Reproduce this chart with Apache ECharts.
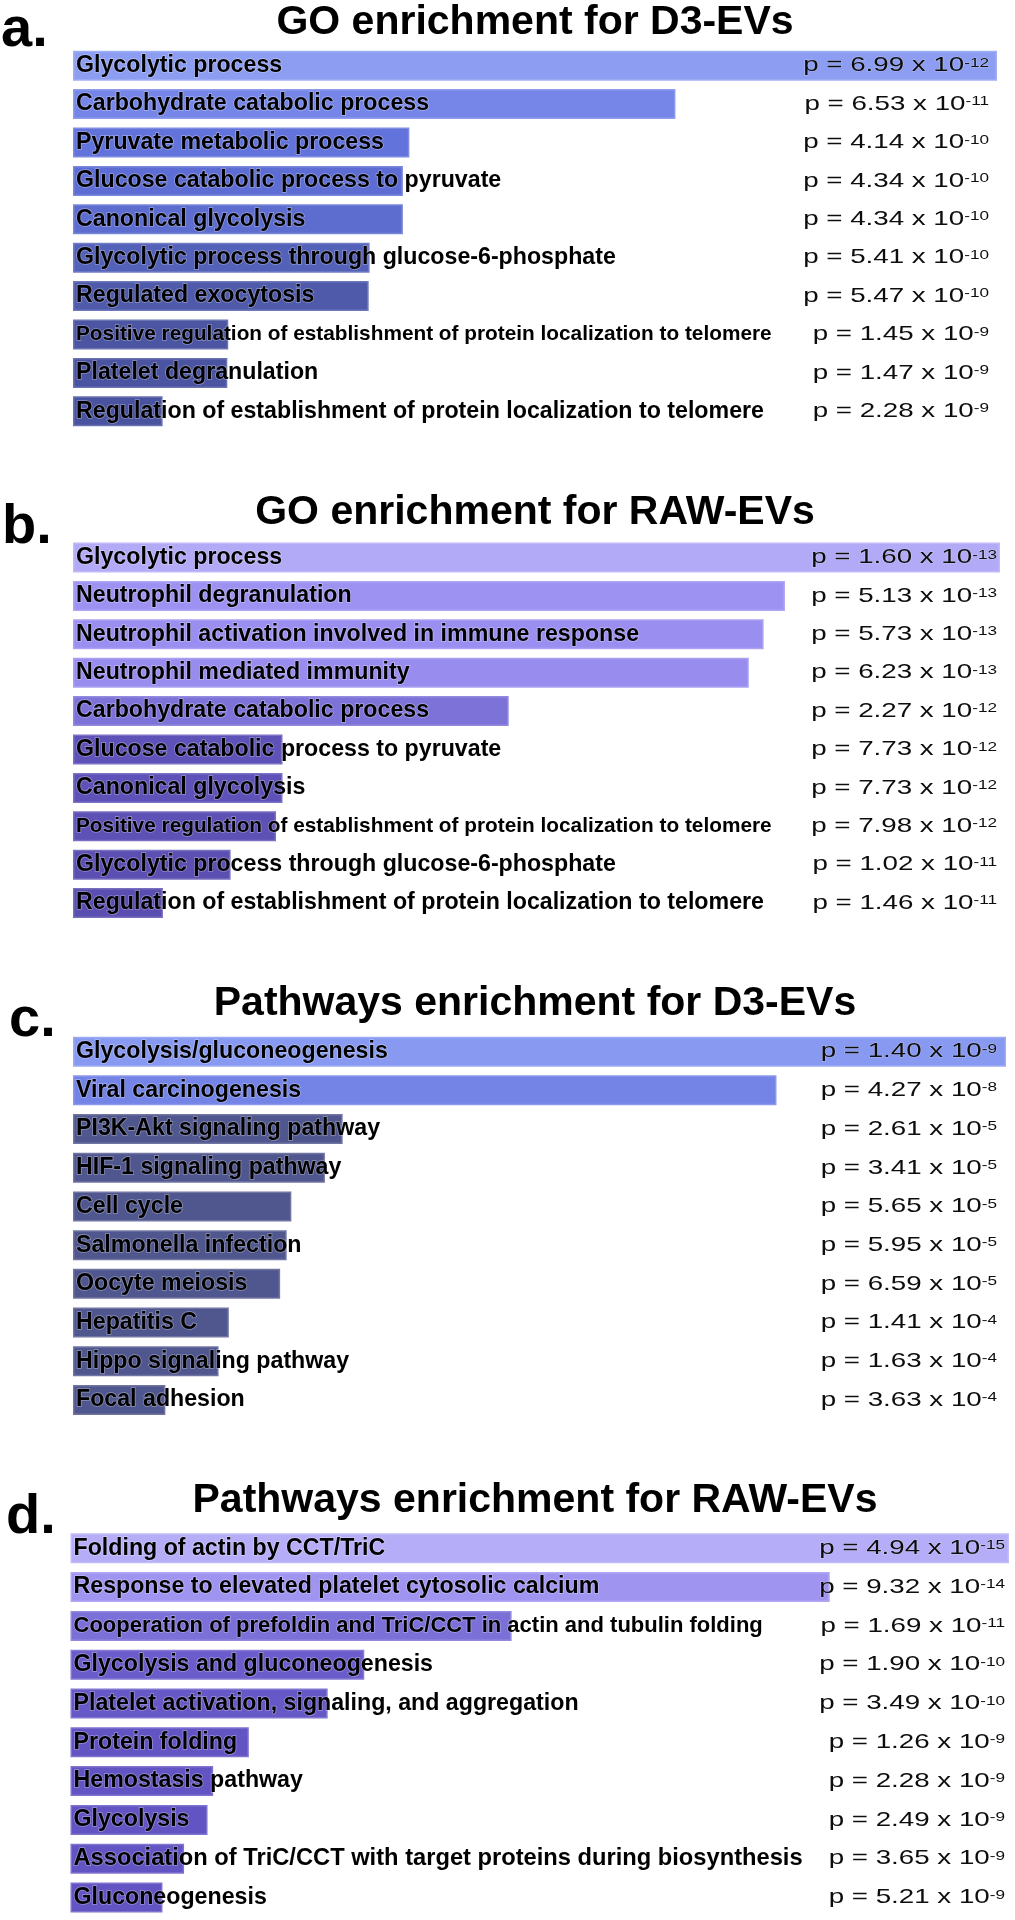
<!DOCTYPE html>
<html><head><meta charset="utf-8">
<script src="https://cdn.jsdelivr.net/npm/echarts@6/dist/echarts.min.js"></script>
<style>html,body{margin:0;padding:0;background:#fff}#c{width:1015px;height:1920px}</style>
</head><body><div id="c"></div>
<script>
// ---------- Panel a: GO enrichment for D3-EVs ----------
const termsA = ['Glycolytic process','Carbohydrate catabolic process','Pyruvate metabolic process','Glucose catabolic process to pyruvate','Canonical glycolysis','Glycolytic process through glucose-6-phosphate','Regulated exocytosis','Positive regulation of establishment of protein localization to telomere','Platelet degranulation','Regulation of establishment of protein localization to telomere'];
const scoreA = [100, 65.2, 36.4, 35.7, 35.7, 32.1, 32.0, 16.8, 16.7, 9.7];
const pMantA = ['6.99','6.53','4.14','4.34','4.34','5.41','5.47','1.45','1.47','2.28'];
const pExpA  = ['-12','-11','-10','-10','-10','-10','-10','-9','-9','-9'];
const colorsA = ['#8c9df2','#7686e8','#6373dc','#5e6dd4','#5d6ccf','#5461b8','#4f5aaa','#4b55a2','#4a54a0','#4a53a0'];

// ---------- Panel b: GO enrichment for RAW-EVs ----------
const termsB = ['Glycolytic process','Neutrophil degranulation','Neutrophil activation involved in immune response','Neutrophil mediated immunity','Carbohydrate catabolic process','Glucose catabolic process to pyruvate','Canonical glycolysis','Positive regulation of establishment of protein localization to telomere','Glycolytic process through glucose-6-phosphate','Regulation of establishment of protein localization to telomere'];
const scoreB = [100, 76.8, 74.5, 72.9, 47.0, 22.6, 22.6, 21.9, 17.0, 9.7];
const pMantB = ['1.60','5.13','5.73','6.23','2.27','7.73','7.73','7.98','1.02','1.46'];
const pExpB  = ['-13','-13','-13','-13','-12','-12','-12','-12','-11','-11'];
const colorsB = ['#b2aaf6','#9d92f2','#9a8ff0','#988cef','#7d72d8','#5e52b8','#5e52b8','#5d51b6','#5b4fb2','#5a4eb0'];

// ---------- Panel c: Pathways enrichment for D3-EVs ----------
const termsC = ['Glycolysis/gluconeogenesis','Viral carcinogenesis','PI3K-Akt signaling pathway','HIF-1 signaling pathway','Cell cycle','Salmonella infection','Oocyte meiosis','Hepatitis C','Hippo signaling pathway','Focal adhesion'];
const scoreC = [100, 75.4, 28.9, 27.0, 23.4, 22.9, 22.2, 16.7, 15.6, 9.9];
const pMantC = ['1.40','4.27','2.61','3.41','5.65','5.95','6.59','1.41','1.63','3.63'];
const pExpC  = ['-9','-8','-5','-5','-5','-5','-5','-4','-4','-4'];
const colorsC = ['#8799f0','#7383e6','#50578e','#50578e','#50578e','#50578e','#50578e','#50578e','#50578e','#50578e'];

// ---------- Panel d: Pathways enrichment for RAW-EVs ----------
const termsD = ['Folding of actin by CCT/TriC','Response to elevated platelet cytosolic calcium','Cooperation of prefoldin and TriC/CCT in actin and tubulin folding','Glycolysis and gluconeogenesis','Platelet activation, signaling, and aggregation','Protein folding','Hemostasis pathway','Glycolysis','Association of TriC/CCT with target proteins during biosynthesis','Gluconeogenesis'];
const scoreD = [100, 80.9, 47.0, 31.3, 27.4, 19.0, 15.2, 14.6, 12.1, 9.8];
const pMantD = ['4.94','9.32','1.69','1.90','3.49','1.26','2.28','2.49','3.65','5.21'];
const pExpD  = ['-15','-14','-11','-10','-10','-9','-9','-9','-9','-9'];
const colorsD = ['#b5adf7','#a094f1','#7b6fd8','#6a5ccb','#6658c6','#6354c3','#6354c3','#6354c3','#6354c3','#6354c3'];

const titles = ['GO enrichment for D3-EVs','GO enrichment for RAW-EVs','Pathways enrichment for D3-EVs','Pathways enrichment for RAW-EVs'];
const letters = ['a.','b.','c.','d.'];

// label font-size overrides (long terms were set in a smaller size in the original)
const labelSizeOverride = {
  'Positive regulation of establishment of protein localization to telomere': 20.8,
  'Cooperation of prefoldin and TriC/CCT in actin and tubulin folding': 22,
  'Association of TriC/CCT with target proteins during biosynthesis': 23.7
};
const LABEL_SIZE = 23.2;

const FONT = "'Liberation Sans', Arial, Helvetica, sans-serif";

const panels = [
  {terms: termsA, score: scoreA, pm: pMantA, pe: pExpA, colors: colorsA, left: 73, top: 46.5, width: 924, height: 384, pMargin: 8, titleY: 22.6, letterX: 1, letterY: 30.6},
  {terms: termsB, score: scoreB, pm: pMantB, pe: pExpB, colors: colorsB, left: 73, top: 538.3, width: 927, height: 384, pMargin: 3, titleY: 512.6, letterX: 2, letterY: 527.6},
  {terms: termsC, score: scoreC, pm: pMantC, pe: pExpC, colors: colorsC, left: 73, top: 1032.3, width: 933, height: 387, pMargin: 9, titleY: 1003.6, letterX: 9, letterY: 1020.6},
  {terms: termsD, score: scoreD, pm: pMantD, pe: pExpD, colors: colorsD, left: 70.5, top: 1528.9, width: 938.5, height: 388, pMargin: 4, titleY: 1500.9, letterX: 6, letterY: 1517.6}
];

function lighten(hex, f) {
  const n = parseInt(hex.slice(1), 16);
  const r = (n >> 16) & 255, g = (n >> 8) & 255, b = n & 255;
  const m = c => Math.round(c + (255 - c) * f);
  return 'rgb(' + m(r) + ',' + m(g) + ',' + m(b) + ')';
}

const pRich = {
  m: {fontFamily: FONT, fontSize: 21, lineHeight: 23, fill: '#0d0d0d', color: '#0d0d0d', verticalAlign: 'middle'},
  s: {fontFamily: FONT, fontSize: 13, lineHeight: 13, fill: '#0d0d0d', color: '#0d0d0d', verticalAlign: 'middle', padding: [0, 0, 5, 0]}
};

const grid = [], xAxis = [], yAxis = [], series = [], graphic = [];
panels.forEach((p, i) => {
  grid.push({left: p.left, top: p.top, width: p.width, height: p.height, containLabel: false});
  xAxis.push({type: 'value', gridIndex: i, min: 0, max: 100, show: false});
  yAxis.push({type: 'category', gridIndex: i, data: p.terms, inverse: true, show: false});
  series.push({
    type: 'bar', xAxisIndex: i, yAxisIndex: i, barWidth: 30, z: 2,
    data: p.score.map((v, j) => ({
      value: v,
      itemStyle: {color: p.colors[j], borderColor: lighten(p.colors[j], 0.18), borderWidth: 1.5},
      label: {fontSize: labelSizeOverride[p.terms[j]] || LABEL_SIZE}
    })),
    label: {
      show: true, position: 'insideLeft', distance: 3, formatter: '{b}',
      color: '#000', fontFamily: FONT, fontWeight: 'bold', fontSize: LABEL_SIZE,
      textBorderColor: 'rgba(255,255,255,0.35)', textBorderWidth: 1.5
    },
    silent: true
  });
  // p-value column, anchored at the axis maximum of each row
  series.push({
    type: 'custom', xAxisIndex: i, yAxisIndex: i, z: 5, silent: true,
    data: p.pm.map((m, j) => [100, j]),
    renderItem: (params, api) => {
      const j = api.value(1);
      const pt = api.coord([api.value(0), j]);
      return {
        type: 'text', x: pt[0] - p.pMargin, y: pt[1], scaleX: 1.32, scaleY: 1,
        style: {
          text: '{m|p = ' + p.pm[j] + ' x 10}{s|' + p.pe[j] + '}',
          rich: pRich, fill: '#0d0d0d',
          align: 'right', verticalAlign: 'middle', textAlign: 'right', textVerticalAlign: 'middle',
          stroke: 'rgba(255,255,255,0.3)', lineWidth: 1
        }
      };
    }
  });
  graphic.push({type: 'text', x: 535, y: p.titleY, style: {text: titles[i], font: 'bold 41px ' + FONT, fill: '#000', textAlign: 'center', textVerticalAlign: 'middle', align: 'center', verticalAlign: 'middle'}});
  graphic.push({type: 'text', x: p.letterX, y: p.letterY, style: {text: letters[i], font: 'bold 56px ' + FONT, fill: '#000', textAlign: 'left', textVerticalAlign: 'middle', align: 'left', verticalAlign: 'middle'}});
});

const chart = echarts.init(document.getElementById('c'), null, {renderer: 'canvas'});
chart.setOption({animation: false, backgroundColor: '#fff', grid, xAxis, yAxis, series, graphic});
</script>
</body></html>
